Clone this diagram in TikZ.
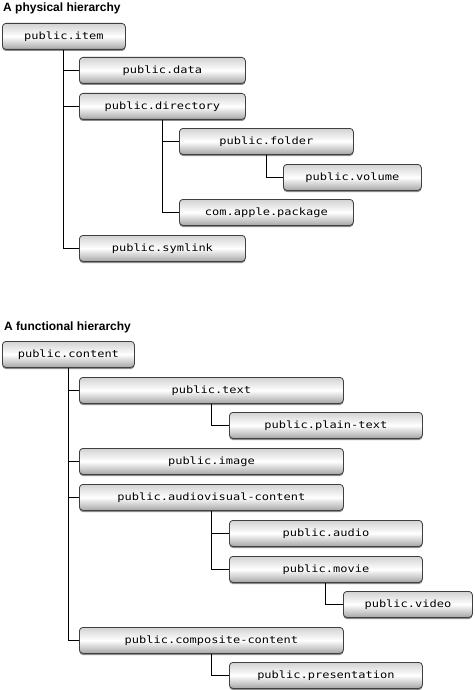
\documentclass[tikz,border=0pt]{standalone}
\usepackage{fontspec}
\setmonofont{DejaVu Sans Mono}[FakeStretch=1.2]
\setsansfont{Liberation Sans}
\usetikzlibrary{shadows}

\begin{document}
\begin{tikzpicture}[x=1pt,y=-1pt,
    box/.style={draw=black!75,line width=0.8pt,rounded corners=3.5pt,minimum height=26pt,inner sep=0pt,anchor=north west,
      top color=gray!35,bottom color=gray!70,middle color=white,
      drop shadow={shadow xshift=0pt,shadow yshift=-1.6pt,fill=black!45,opacity=1},
      font=\ttfamily\fontsize{10}{12}\selectfont},
    title/.style={anchor=base west,inner sep=0pt,font=\sffamily\bfseries\fontsize{12}{14}\selectfont},
    link/.style={draw,line width=1.1pt}]
  \useasboundingbox (0,0) rectangle (474,690);

  % physical
  \node (phys) [title] at (3,11.5) {A physical hierarchy};
  \node (item) [box,minimum width=123pt] at (2,23) {public.item};
  \node (data) [box,minimum width=166pt] at (79,57) {public.data};
  \node (dir) [box,minimum width=166pt] at (79,93) {public.directory};
  \node (folder) [box,minimum width=174pt] at (179,128) {public.folder};
  \node (volume) [box,minimum width=138pt] at (283,164) {public.volume};
  \node (package) [box,minimum width=174pt] at (179,199) {com.apple.package};
  \node (symlink) [box,minimum width=166pt] at (79,235) {public.symlink};
  \path[link] (item.south) |- (data.west);
  \path[link] (item.south) |- (dir.west);
  \path[link] (item.south) |- (symlink.west);
  \path[link] (dir.south) |- (folder.west);
  \path[link] (dir.south) |- (package.west);
  \path[link] (folder.south) |- (volume.west);

  % functional
  \node (func) [title] at (4,330) {A functional hierarchy};
  \node (content) [box,minimum width=132pt] at (2,341) {public.content};
  \node (text) [box,minimum width=264pt] at (79,377) {public.text};
  \node (plain) [box,minimum width=193pt] at (229,412) {public.plain-text};
  \node (image) [box,minimum width=264pt] at (79,448) {public.image};
  \node (av) [box,minimum width=264pt] at (79,484) {public.audiovisual-content};
  \node (audio) [box,minimum width=193pt] at (229,520) {public.audio};
  \node (movie) [box,minimum width=193pt] at (229,556) {public.movie};
  \node (video) [box,minimum width=129pt] at (343,591) {public.video};
  \node (composite) [box,minimum width=264pt] at (79,627) {public.composite-content};
  \node (pres) [box,minimum width=193pt] at (229,662) {public.presentation};
  \path[link] (content.south) |- (text.west);
  \path[link] (content.south) |- (image.west);
  \path[link] (content.south) |- (av.west);
  \path[link] (content.south) |- (composite.west);
  \path[link] (text.south) |- (plain.west);
  \path[link] (av.south) |- (audio.west);
  \path[link] (av.south) |- (movie.west);
  \path[link] (movie.south) |- (video.west);
  \path[link] (composite.south) |- (pres.west);
\end{tikzpicture}
\end{document}
